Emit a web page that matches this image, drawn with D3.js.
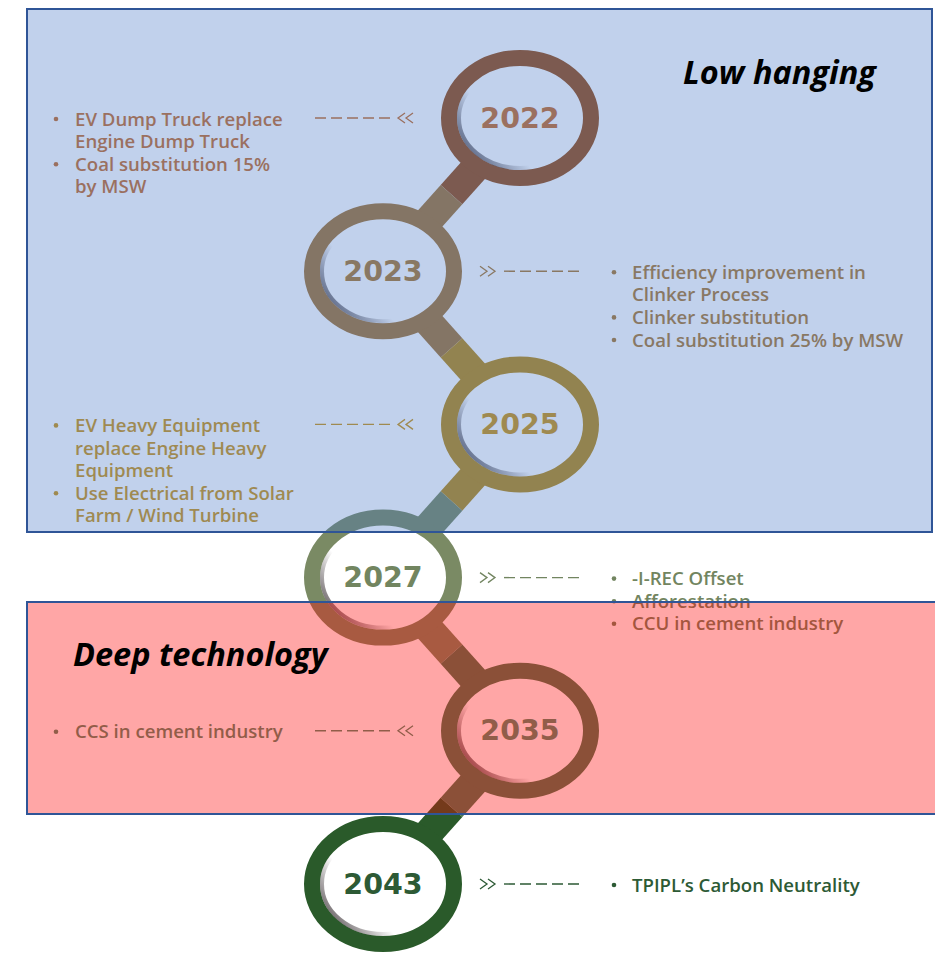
<!DOCTYPE html>
<html>
<head>
<meta charset="utf-8">
<script src="https://cdn.jsdelivr.net/npm/d3@7"></script>
<style>
  body { margin: 0; background: #fff; }
</style>
</head>
<body>
<div id="chart"></div>
<script>
// Hitos de la hoja de ruta
const years = ["2022", "2023", "2025", "2027", "2035", "2043"];
const circleSide = ["right", "left", "right", "left", "right", "left"];

// Acciones por hito (cada viñeta ya partida en líneas)
const actions = [
    [["EV Dump Truck replace", "Engine Dump Truck"], ["Coal substitution 15%", "by MSW"]],
    [["Efficiency improvement in", "Clinker Process"], ["Clinker substitution"], ["Coal substitution 25% by MSW"]],
    [["EV Heavy Equipment", "replace Engine Heavy", "Equipment"], ["Use Electrical from Solar", "Farm / Wind Turbine"]],
    [["-I-REC Offset"], ["Afforestation"], ["CCU in cement industry"]],
    [["CCS in cement industry"]],
    [["TPIPL\u2019s Carbon Neutrality"]]
];

// Colores base (antes de la capa translúcida)
const ringColors = ["#984e17", "#a57636", "#ba8b17", "#7a8a64", "#4e7b56", "#2a5a2a"];
const textColors = ["#c66f2e", "#ac7b34", "#cd9617", "#728560", "#578f70", "#2d5a35"];

const zoneLabels = ["Low hanging", "Deep technology"];

function drawRoadmap() {
    const width = 935, height = 953;
    const svg = d3.select("#chart").append("svg")
        .attr("width", width)
        .attr("height", height);

    // Sombra interior del anillo (lado izquierdo / abajo)
    const defs = svg.append("defs");
    const shade = defs.append("linearGradient").attr("id", "innerShade")
        .attr("x1", 0).attr("y1", 0.7).attr("x2", 0.6).attr("y2", 0.3);
    shade.append("stop").attr("offset", 0).attr("stop-color", "#1e1418").attr("stop-opacity", 0.6);
    shade.append("stop").attr("offset", 0.45).attr("stop-color", "#1e1418").attr("stop-opacity", 0);

    const y = d3.scalePoint().domain(years).range([118, 884]);
    const x = d3.scalePoint().domain(["left", "right"]).range([383, 520]);

    const nodes = years.map((yr, i) => ({
        year: yr, i,
        side: circleSide[i],
        cx: x(circleSide[i]),
        cy: y(yr),
        ring: ringColors[i],
        text: textColors[i],
        items: actions[i]
    }));

    const rx = 71, ry = 60, ringW = 16;

    // Conectores entre círculos: mitad de cada color
    const links = svg.append("g");
    nodes.slice(0, -1).forEach((a, k) => {
        const b = nodes[k + 1];
        const mx = (a.cx + b.cx) / 2, my = (a.cy + b.cy) / 2;
        links.append("line")
            .attr("x1", a.cx).attr("y1", a.cy).attr("x2", mx).attr("y2", my)
            .attr("stroke", a.ring).attr("stroke-width", 29);
        links.append("line")
            .attr("x1", mx).attr("y1", my).attr("x2", b.cx).attr("y2", b.cy)
            .attr("stroke", b.ring).attr("stroke-width", 29);
    });

    // Anillos
    const node = svg.append("g").selectAll("g")
        .data(nodes)
        .enter()
        .append("g");

    node.append("ellipse")
        .attr("cx", d => d.cx).attr("cy", d => d.cy)
        .attr("rx", rx).attr("ry", ry)
        .attr("fill", "#fff")
        .attr("stroke", d => d.ring)
        .attr("stroke-width", ringW);

    node.append("ellipse")
        .attr("cx", d => d.cx).attr("cy", d => d.cy)
        .attr("rx", rx - ringW / 2 - 2).attr("ry", ry - ringW / 2 - 2)
        .attr("fill", "none")
        .attr("stroke", "url(#innerShade)")
        .attr("stroke-width", 4);

    node.append("text")
        .attr("x", d => d.cx).attr("y", d => d.cy)
        .attr("text-anchor", "middle")
        .attr("dominant-baseline", "central")
        .style("font-family", "'DejaVu Sans', sans-serif")
        .style("font-weight", "bold")
        .style("font-size", "28.5px")
        .style("fill", d => d.text)
        .text(d => d.year);

    // Líneas punteadas, chevrones y viñetas
    node.each(function(d) {
        const g = d3.select(this);
        const left = d.side === "right"; // texto a la izquierda del círculo
        const lineY = d.cy;
        let dashX1, dashX2, chevX, bulletX, textX;
        if (left) {
            dashX1 = d.cx - 205; dashX2 = d.cx - 130;
            chevX = d.cx - 107;
            bulletX = 56; textX = 75;
        } else {
            dashX1 = d.cx + 121; dashX2 = d.cx + 196;
            chevX = d.cx + 97;
            bulletX = 614; textX = 632;
        }
        g.append("line")
            .attr("x1", dashX1).attr("x2", dashX2)
            .attr("y1", lineY).attr("y2", lineY)
            .attr("stroke", d.text).attr("stroke-width", 1.4)
            .attr("stroke-dasharray", "11,5");
        [0, 8].forEach(off => {
            const tip = left ? chevX - off - 7 : chevX + off + 7;
            const base = left ? chevX - off : chevX + off;
            g.append("path")
                .attr("d", `M${base},${lineY - 5}L${tip},${lineY}L${base},${lineY + 5}`)
                .attr("fill", "none")
                .attr("stroke", d.text)
                .attr("stroke-width", 1.3);
        });

        let line = 0;
        const lh = 22.6;
        d.items.forEach(bullet => {
            g.append("circle")
                .attr("cx", bulletX).attr("cy", lineY + line * lh + 1)
                .attr("r", 2.3)
                .attr("fill", d.text);
            bullet.forEach(t => {
                g.append("text")
                    .attr("x", textX).attr("y", lineY + line * lh)
                    .attr("dominant-baseline", "central")
                    .style("font-family", "'Open Sans', sans-serif")
                    .style("font-weight", 600)
                    .style("font-size", "18.6px")
                    .style("fill", d.text)
                    .text(t);
                line++;
            });
        });
    });

    // Zonas translúcidas
    svg.append("rect")
        .attr("x", 27).attr("y", 9).attr("width", 905).attr("height", 523)
        .attr("fill", "#4472c4").attr("fill-opacity", 0.33)
        .attr("stroke", "#2f5597").attr("stroke-width", 2);
    svg.append("rect")
        .attr("x", 27).attr("y", 602).attr("width", 912).attr("height", 212)
        .attr("fill", "#ff0000").attr("fill-opacity", 0.35)
        .attr("stroke", "#2f5597").attr("stroke-width", 2);

    svg.append("text")
        .attr("x", 683).attr("y", 84)
        .style("font-family", "'Open Sans', sans-serif")
        .style("font-weight", "bold")
        .style("font-style", "italic")
        .style("font-size", "32.5px")
        .style("fill", "#000")
        .text(zoneLabels[0]);
    svg.append("text")
        .attr("x", 73).attr("y", 666)
        .style("font-family", "'Open Sans', sans-serif")
        .style("font-weight", "bold")
        .style("font-style", "italic")
        .style("font-size", "32.5px")
        .style("fill", "#000")
        .text(zoneLabels[1]);
}

drawRoadmap();
</script>
</body>
</html>
